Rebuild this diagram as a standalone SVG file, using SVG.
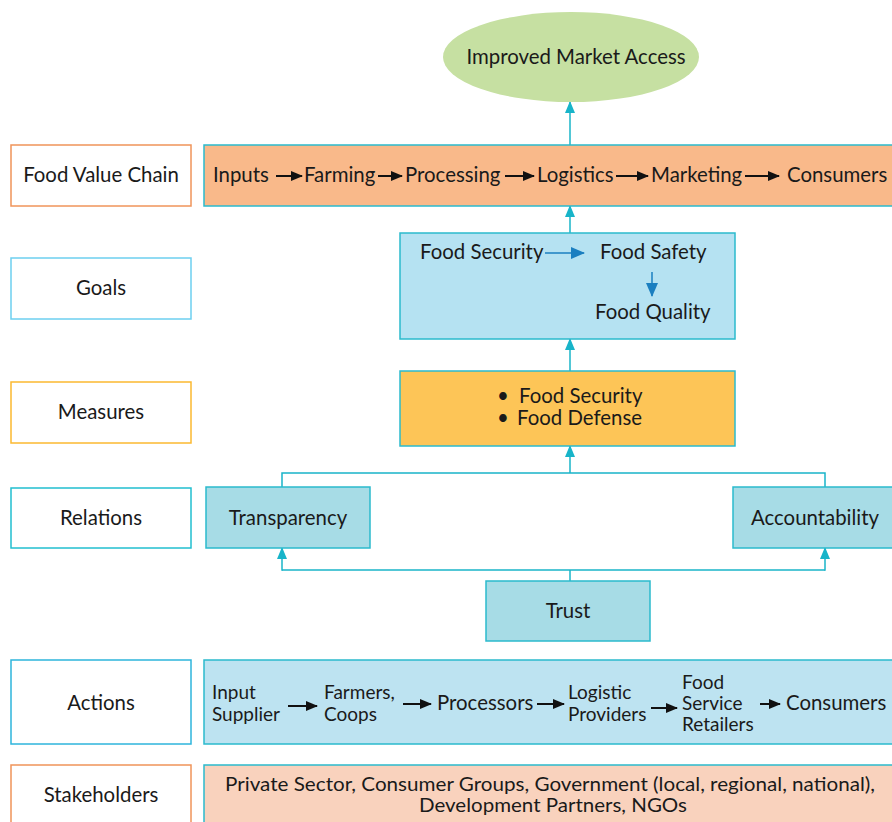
<svg xmlns="http://www.w3.org/2000/svg" width="892" height="822" viewBox="0 0 892 822">
<style>
text{font-family:"Lato","Open Sans","DejaVu Sans",sans-serif;font-size:20.4px;fill:#1a1a1a}
.c{text-anchor:middle}
.s{font-size:19px}
.lab{fill:#fff;stroke-width:1.5}
.conn{fill:none;stroke:#18b4c9;stroke-width:1.5}
.blk{stroke:#111;stroke-width:2;fill:none}
.blu{stroke:#1b7fc0;stroke-width:1.5;fill:none}
.box{stroke:#2bbacd;stroke-width:1.5}
</style>
<defs>
<marker id="ac" markerWidth="12" markerHeight="10" refX="11" refY="5" orient="auto" markerUnits="userSpaceOnUse"><path d="M0,0 L12,5 L0,10 z" fill="#18b4c9"/></marker>
<marker id="ak" markerWidth="12" markerHeight="10" refX="11" refY="5" orient="auto" markerUnits="userSpaceOnUse"><path d="M0,0 L12,5 L0,10 z" fill="#111"/></marker>
<marker id="ab" markerWidth="14" markerHeight="12" refX="13" refY="6" orient="auto" markerUnits="userSpaceOnUse"><path d="M0,0 L14,6 L0,12 z" fill="#1b7fc0"/></marker>
</defs>

<g id="labels">
<g id="lab-fvc"><rect class="lab" x="11" y="145" width="180" height="61" stroke="#f0945a"/><text class="c" x="101" y="182">Food Value Chain</text></g>
<g id="lab-goals"><rect class="lab" x="11" y="258" width="180" height="61" stroke="#6dcff0"/><text class="c" x="101" y="295">Goals</text></g>
<g id="lab-measures"><rect class="lab" x="11" y="382" width="180" height="61" stroke="#fbb930"/><text class="c" x="101" y="419">Measures</text></g>
<g id="lab-relations"><rect class="lab" x="11" y="488" width="180" height="60" stroke="#22bfcf"/><text class="c" x="101" y="525">Relations</text></g>
<g id="lab-actions"><rect class="lab" x="11" y="660" width="180" height="84" stroke="#2eb5dc"/><text class="c" x="101" y="710">Actions</text></g>
<g id="lab-stakeholders"><rect class="lab" x="11" y="765" width="180" height="70" stroke="#f0945a"/><text class="c" x="101" y="802">Stakeholders</text></g>
</g>

<g id="connectors">
<line class="conn" x1="570" y1="145" x2="570" y2="102" marker-end="url(#ac)"/>
<line class="conn" x1="570" y1="233" x2="570" y2="206" marker-end="url(#ac)"/>
<line class="conn" x1="570" y1="371" x2="570" y2="339" marker-end="url(#ac)"/>
<polyline class="conn" points="282,487 282,473 825,473 825,487"/>
<line class="conn" x1="570" y1="473" x2="570" y2="446" marker-end="url(#ac)"/>
<line class="conn" x1="570" y1="581" x2="570" y2="570"/>
<line class="conn" x1="282" y1="570" x2="825" y2="570"/>
<line class="conn" x1="282" y1="570.75" x2="282" y2="548" marker-end="url(#ac)"/>
<line class="conn" x1="825" y1="570.75" x2="825" y2="548" marker-end="url(#ac)"/>
</g>

<g id="improved-market-access"><ellipse cx="571" cy="57" rx="128" ry="45" fill="#c6e0a2"/><text class="c" x="576" y="64">Improved Market Access</text></g>

<g id="food-value-chain">
<rect class="box" x="204" y="145" width="700" height="61" fill="#f9b98a"/>
<text x="213" y="182">Inputs</text>
<line class="blk" x1="276" y1="176" x2="302" y2="176" marker-end="url(#ak)"/>
<text x="304" y="182">Farming</text>
<line class="blk" x1="378" y1="176" x2="402" y2="176" marker-end="url(#ak)"/>
<text x="405" y="182">Processing</text>
<line class="blk" x1="505" y1="176" x2="534" y2="176" marker-end="url(#ak)"/>
<text x="537" y="182">Logistics</text>
<line class="blk" x1="616" y1="176" x2="648" y2="176" marker-end="url(#ak)"/>
<text x="651" y="182">Marketing</text>
<line class="blk" x1="745" y1="176" x2="779" y2="176" marker-end="url(#ak)"/>
<text x="787" y="182">Consumers</text>
</g>

<g id="goals">
<rect class="box" x="400" y="233" width="335" height="106" fill="#b5e2f2"/>
<text x="420" y="259">Food Security</text>
<line class="blu" x1="545" y1="253" x2="584" y2="253" marker-end="url(#ab)"/>
<text x="600" y="259">Food Safety</text>
<line class="blu" x1="652" y1="272" x2="652" y2="296" marker-end="url(#ab)"/>
<text x="595" y="319">Food Quality</text>
</g>

<g id="measures">
<rect class="box" x="400" y="371" width="335" height="75" fill="#fdc557"/>
<text x="497" y="403">•</text><text x="519" y="403">Food Security</text>
<text x="497" y="425">•</text><text x="517" y="425">Food Defense</text>
</g>

<g id="transparency"><rect class="box" x="206" y="487" width="164" height="61" fill="#a7dce6"/><text class="c" x="288" y="525">Transparency</text></g>
<g id="accountability"><rect class="box" x="733" y="487" width="170" height="61" fill="#a7dce6"/><text class="c" x="815" y="525">Accountability</text></g>
<g id="trust"><rect class="box" x="486" y="581" width="164" height="60" fill="#a7dce6"/><text class="c" x="568" y="618">Trust</text></g>

<g id="actions">
<rect class="box" x="204" y="660" width="700" height="84" fill="#bde3f1"/>
<text class="s" x="212" y="699">Input</text><text class="s" x="212" y="721">Supplier</text>
<line class="blk" x1="288" y1="706" x2="317" y2="706" marker-end="url(#ak)"/>
<text class="s" x="324" y="699">Farmers,</text><text class="s" x="324" y="721">Coops</text>
<line class="blk" x1="403" y1="704" x2="431" y2="704" marker-end="url(#ak)"/>
<text x="437" y="710">Processors</text>
<line class="blk" x1="537" y1="704" x2="564" y2="704" marker-end="url(#ak)"/>
<text class="s" x="568" y="699">Logistic</text><text class="s" x="568" y="721">Providers</text>
<line class="blk" x1="651" y1="708" x2="677" y2="708" marker-end="url(#ak)"/>
<text class="s" x="682" y="689">Food</text><text class="s" x="682" y="710">Service</text><text class="s" x="682" y="731">Retailers</text>
<line class="blk" x1="760" y1="704" x2="780" y2="704" marker-end="url(#ak)"/>
<text x="786" y="710">Consumers</text>
</g>

<g id="stakeholders">
<rect class="box" x="204" y="765" width="700" height="70" fill="#f9d2bd"/>
<text class="c s" x="550" y="791" textLength="650" lengthAdjust="spacingAndGlyphs">Private Sector, Consumer Groups, Government (local, regional, national),</text>
<text class="c s" x="553" y="812" textLength="268" lengthAdjust="spacingAndGlyphs">Development Partners, NGOs</text>
</g>
</svg>
